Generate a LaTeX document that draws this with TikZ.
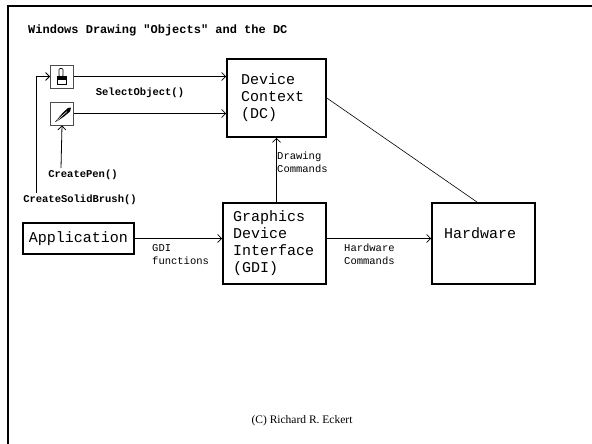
\documentclass[tikz,border=0pt]{standalone}
\usepackage{fontspec}
\setmonofont{Liberation Mono}
\newfontfamily\creditfont{Liberation Serif}
\usetikzlibrary{arrows.meta, positioning, calc}

\begin{document}
\begin{tikzpicture}[x=1pt, y=-1pt,
    box/.style={draw, line width=1.6pt, inner sep=0pt, align=left,
                font=\ttfamily\fontsize{15}{17}\selectfont},
    tag/.style={inner sep=0pt, align=left, font=\ttfamily\fontsize{10.5}{13}\selectfont},
    call/.style={inner sep=0pt, font=\ttfamily\bfseries\fontsize{10.5}{13}\selectfont},
    icon/.style={draw=black!70, line width=0.8pt, minimum size=23pt, inner sep=0pt},
    link/.style={line width=0.8pt, -{Straight Barb[length=4pt,width=8pt]}}]
    \useasboundingbox (0,0) rectangle (592,444);

    %--- frame and title ---
    \draw[line width=2.5pt] (8,444) -- (8,6) -- (592,6);
    \node (TTL) [anchor=west, inner sep=0pt, font=\ttfamily\bfseries\fontsize{12}{14}\selectfont]
        at (28,30) {Windows Drawing "Objects" and the DC};

    %--- main boxes ---
    \node (DC)  [box, minimum width=99pt, minimum height=78pt, text width=71pt]
        at (276.5,98) {Device\\Context\\(DC)};
    \node (GDI) [box, minimum width=103pt, minimum height=81pt, text width=83pt]
        at (274.5,243.5) {Graphics\\Device\\Interface\\(GDI)};
    \node (HW)  [box, minimum width=103pt, minimum height=81pt, text width=79pt,
                 text height=10pt, text depth=20pt]
        at (483.5,243.5) {Hardware};
    \node (APP) [box, minimum width=111pt, minimum height=31pt]
        at (78.5,238.5) {Application};

    %--- the two drawing objects ---
    \node (BR)  [icon] at (62,76.5) {};
    \node (PEN) [icon] at (62,113.5) {};

    % brush: handle, ferrule with dark band
    \begin{scope}[shift={(BR.center)}]
        \draw[line width=0.7pt, rounded corners=1pt] (-3,-8) rectangle (1,0);
        \draw[line width=0.7pt] (-5,0) rectangle (4,7.5);
        \fill (-5,0) rectangle (4,4);
    \end{scope}
    % pen: slanted nib
    \begin{scope}[shift={(PEN.center)}]
        \fill (-7,8.5) -- (1,-1) -- (6,-5.5) -- (9,-6) -- (8,-2) -- (2,3) -- (-4,7) -- cycle;
        \draw[white, line width=0.5pt] (-5,7) -- (5,-2);
    \end{scope}

    %--- labels ---
    \node (SEL) [call] at (140,93) {SelectObject()};
    \node (CP)  [call] at (83,175) {CreatePen()};
    \node (CSB) [call] at (80,200) {CreateSolidBrush()};
    \node (DRW) [tag, anchor=north west] at (277,152) {Drawing\\Commands};
    \node (FUN) [tag, anchor=north west] at (152,244) {GDI\\functions};
    \node (HWC) [tag, anchor=north west] at (344,244) {Hardware\\Commands};
    \node (CR)  [inner sep=0pt, font=\creditfont\fontsize{11.5}{13}\selectfont]
        at (302,421) {(C) Richard R. Eckert};

    % free ends of the two create calls
    \coordinate (CPtop)  at (61,168);
    \coordinate (CSBtop) at (36,193);

    %--- connectors ---
    \draw[link] (CSBtop) |- (BR.west);
    \draw[link] (CPtop) -- (PEN.south);
    \draw[link] (BR.east) -- (BR.east -| DC.west);
    \draw[link] (PEN.east) -- (PEN.east -| DC.west);
    \draw[link] (DC.south |- GDI.north) -- (DC.south);
    \draw[link] (APP.east) -- (APP.east -| GDI.west);
    \draw[link] (APP.east -| GDI.east) -- (APP.east -| HW.west);
    \draw[line width=0.6pt] (DC.east) -- ($(HW.north west)!0.44!(HW.north east)$);
\end{tikzpicture}
\end{document}
